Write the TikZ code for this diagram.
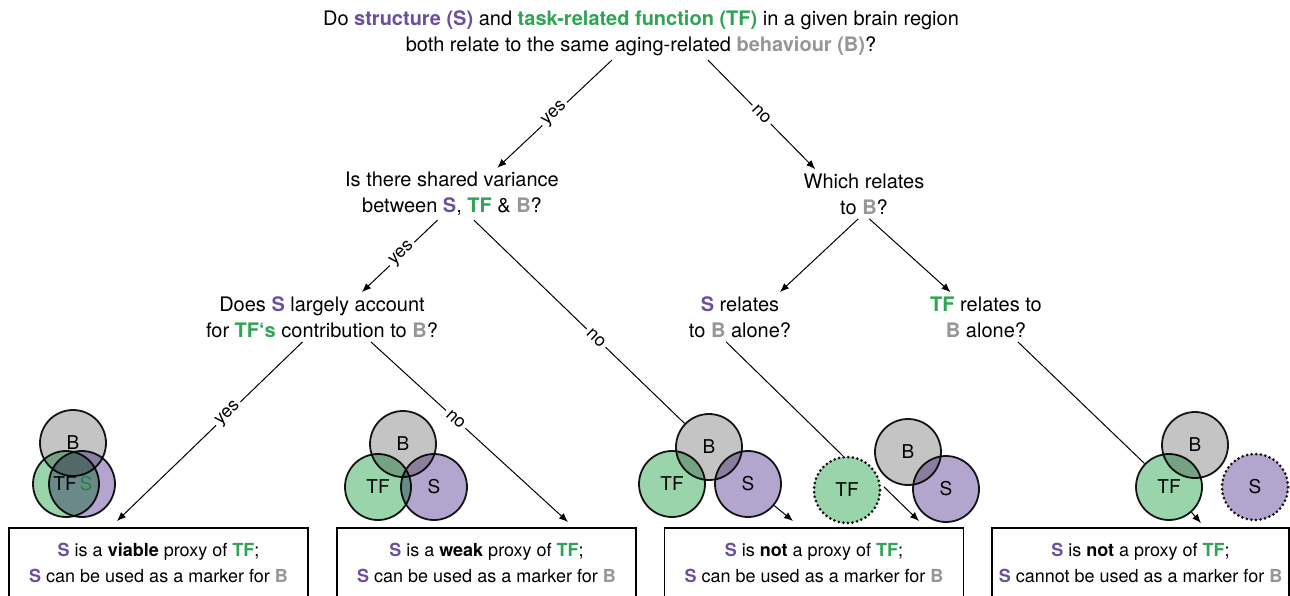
\documentclass[tikz,border=0pt]{standalone}
\usepackage{xcolor}
\usepackage{fontspec}
\setmainfont{TeX Gyre Heros}
\usepackage{tikz}
\usetikzlibrary{arrows,arrows.meta}

\definecolor{spurple}{RGB}{107,79,158}
\definecolor{tfgreen}{RGB}{48,163,84}
\definecolor{bgray}{RGB}{150,150,150}
\definecolor{sfill}{RGB}{180,165,206}
\definecolor{tffill}{RGB}{153,212,171}
\definecolor{bfill}{RGB}{196,196,196}

\newcommand{\sS}{\textcolor{spurple}{\textbf{S}}}
\newcommand{\sTF}{\textcolor{tfgreen}{\textbf{TF}}}
\newcommand{\sB}{\textcolor{bgray}{\textbf{B}}}

\tikzset{
  question/.style={align=center, inner sep=2pt, font=\fontsize{10}{13}\selectfont},
  outcome/.style={draw, line width=0.75pt, minimum width=149.5pt, minimum height=35pt, align=center, font=\fontsize{9}{13}\selectfont},
  answer/.style={fill=white, inner sep=1.5pt, sloped, font=\fontsize{9}{9}\selectfont},
  wire/.style={line width=0.5pt},
  link/.style={wire, -{Latex[length=4.5pt,width=3.6pt]}},
  venn/.style={circle, draw=black!90, line width=0.9pt, minimum size=33pt, inner sep=0pt, blend mode=multiply, font=\fontsize{9.5}{9.5}\selectfont},
  vb/.style={venn, fill=bfill},
  vtf/.style={venn, fill=tffill},
  vs/.style={venn, fill=sfill},
  absent/.style={dash pattern=on 0pt off 2.3pt, line cap=round, line width=1.5pt},
  vlabel/.style={inner sep=0pt, font=\fontsize{9.5}{9.5}\selectfont}
}

\begin{document}
\begin{tikzpicture}[x=0.5pt,y=-0.5pt]
  \useasboundingbox (0,0) rectangle (1290,595);

  % questions
  \node[question] (ask) at (641,33) {Do \textcolor{spurple}{\textbf{structure (S)}} and \textcolor{tfgreen}{\textbf{task-related function (TF)}} in a given brain region\\both relate to the same aging-related \textcolor{bgray}{\textbf{behaviour (B)}}?};
  \node[question] (shared) at (452,194) {Is there shared variance\\between \sS, \sTF{} \& \sB?};
  \node[question] (which) at (864,194) {Which relates\\to \sB?};
  \node[question] (doesS) at (322,317) {Does \sS{} largely account\\for \textcolor{tfgreen}{\textbf{TF`s}} contribution to \sB?};
  \node[question] (salone) at (740,317) {\sS{} relates\\to \sB{} alone?};
  \node[question] (talone) at (986,317) {\sTF{} relates to\\\sB{} alone?};

  % outcomes
  \node[outcome] (box1) at (158.5,563) {\sS{} is a \textbf{viable} proxy of \sTF;\\\sS{} can be used as a marker for \sB};
  \node[outcome] (box2) at (486.5,563) {\sS{} is a \textbf{weak} proxy of \sTF;\\\sS{} can be used as a marker for \sB};
  \node[outcome] (box3) at (814,563) {\sS{} is \textbf{not} a proxy of \sTF;\\\sS{} can be used as a marker for \sB};
  \node[outcome, minimum width=148pt] (box4) at (1140.5,563) {\sS{} is \textbf{not} a proxy of \sTF;\\\sS{} cannot be used as a marker for \sB};

  %%%%%%%%%%%%%%%% venn diagrams
  \node[vb] (c1b) at (73,443) {B};
  \node[vtf] (c1tf) at (66,484) {};
  \node[vs] (c1s) at (82,484) {};
  \node[vlabel] (l1tf) at (65,484) {TF};
  \node[vlabel, text=tfgreen!80!black] (l1s) at (86,484) {S};

  \node[vb] (c2b) at (403,444) {B};
  \node[vtf] (c2tf) at (378,487) {TF};
  \node[vs] (c2s) at (434,487) {S};

  \node[vb] (c3b) at (709,447) {B};
  \node[vtf] (c3tf) at (672,484) {TF};
  \node[vs] (c3s) at (748,484) {S};

  \node[vtf, absent] (c4tf) at (847,490) {TF};
  \node[vb] (c4b) at (908,452) {B};
  \node[vs] (c4s) at (946,489) {S};

  \node[vb] (c5b) at (1195,445) {B};
  \node[vtf] (c5tf) at (1169,487) {TF};
  \node[vs, absent] (c5s) at (1255,487) {S};
  %%%%%%%%%%%%%%%%

  \coordinate (t1) at (117,521);
  \coordinate (t2) at (568,522);
  \coordinate (t3) at (793,521);
  \coordinate (t4) at (919,521);
  \coordinate (t5) at (1201,523);

  \draw[link] (ask.223) -- node[answer, pos=0.5] (a1) {yes} (shared.30);
  \draw[link] (ask.338) -- node[answer, pos=0.5] (a2) {no} (which.153);
  \draw[link] (shared.241) -- node[answer, pos=0.47] (a3) {yes} (doesS.32);
  \draw[wire] (shared.310) -- node[answer, pos=0.58] (a4) {no} (c3b);
  \draw[link] (c3s) -- (t3);
  \draw[link] (which.257) -- (salone.32);
  \draw[link] (which.282) -- (talone.145);
  \draw[link] (doesS.232) -- node[answer, pos=0.4] (a5) {yes} (t1);
  \draw[link] (doesS.333) -- node[answer, pos=0.43] (a6) {no} (t2);
  \draw[wire] (salone.241) -- (c4tf.97);
  \draw[link, shorten <=2pt] (c4tf.10) -- (t4);
  \draw[wire] (talone.322) -- (c5tf);
  \draw[link] (c5tf) -- (t5);
\end{tikzpicture}
\end{document}
